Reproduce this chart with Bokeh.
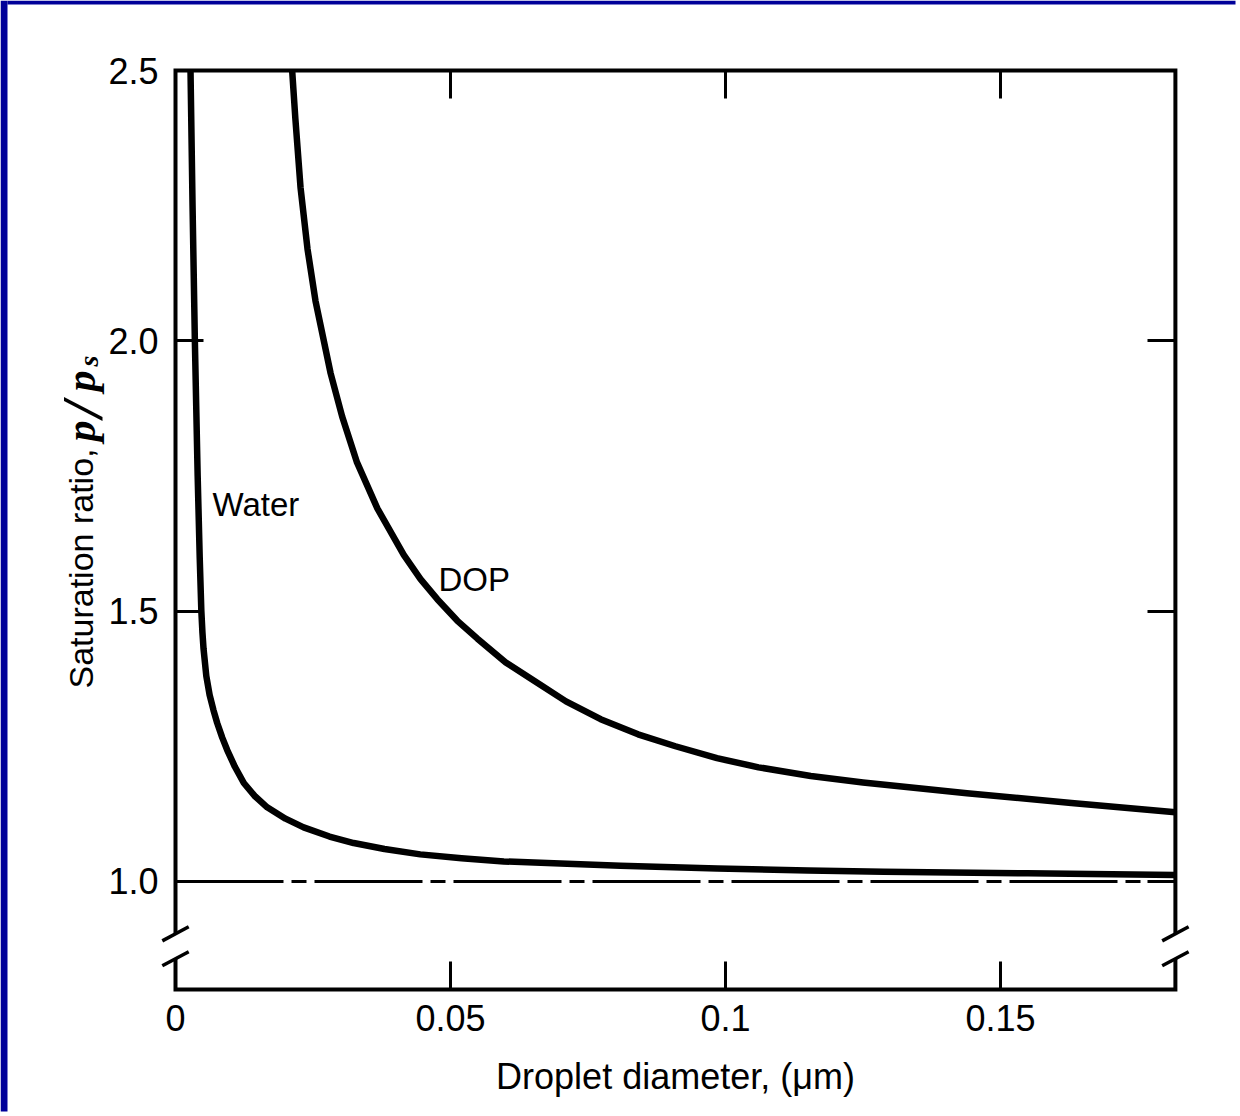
import math
from bokeh.plotting import figure
from bokeh.models import LinearAxis, FixedTicker, Label, Range1d, PrintfTickFormatter
from bokeh.embed import file_html
from bokeh.resources import INLINE

# ---- data ----
water_d = [0.00273, 0.00310, 0.00352, 0.00403, 0.00440, 0.00470, 0.00490, 0.00510, 0.00560,
           0.00620, 0.00690, 0.00758, 0.00850, 0.00940, 0.01080, 0.01242, 0.01450, 0.01667,
           0.02000, 0.02330, 0.02800, 0.03240, 0.03800, 0.04450, 0.05200, 0.05970, 0.07000,
           0.08090, 0.09850, 0.11500, 0.12870, 0.15500, 0.18180]
water_s = [2.50, 2.25, 2.00, 1.75, 1.60, 1.50, 1.46, 1.43, 1.38,
           1.345, 1.317, 1.293, 1.266, 1.243, 1.212, 1.182, 1.157, 1.137,
           1.116, 1.100, 1.083, 1.071, 1.060, 1.050, 1.043, 1.037, 1.033,
           1.029, 1.024, 1.020, 1.018, 1.015, 1.012]

dop_d = [0.02121, 0.0218, 0.02273, 0.0240, 0.02545, 0.0282, 0.0303, 0.0330, 0.0367, 0.0415,
         0.04455, 0.0476, 0.05125, 0.0549, 0.06005, 0.0652, 0.0710, 0.0773, 0.0841, 0.0909,
         0.09845, 0.1060, 0.1155, 0.1250, 0.1439, 0.1629, 0.1818]
dop_s = [2.50, 2.41, 2.284, 2.17, 2.074, 1.94, 1.86, 1.775, 1.69, 1.604,
         1.559, 1.522, 1.482, 1.449, 1.405, 1.371, 1.333, 1.300, 1.272, 1.250,
         1.228, 1.211, 1.195, 1.183, 1.163, 1.145, 1.128]

x_ticks = [0, 0.05, 0.1, 0.15]
x_tick_labels = ["0", "0.05", "0.1", "0.15"]
y_ticks = [1.0, 1.5, 2.0, 2.5]

x_min, x_max = 0.0, 0.1818
y_min, y_max = 0.8, 2.5
y_break = [0.857, 0.903]
ref_level = 1.0

series_names = ["Water", "DOP"]
x_label = "Droplet diameter, (\u03bcm)"
y_label_text = "Saturation ratio,"

# ---- layout: the frame fills the whole canvas; axes sit at fixed data locations ----
W, H = 1238, 1114
PX_X, PX_Y = 5500.0, 540.6          # pixels per data unit
BOX_LEFT, BOX_TOP = 175, 70         # pixel position of the (x_min, y_max) corner
xs0 = x_min - BOX_LEFT / PX_X
ys1 = y_max + BOX_TOP / PX_Y


def dx_px(px):
    return x_min + (px - BOX_LEFT) / PX_X


def dy_px(py):
    return y_max - (py - BOX_TOP) / PX_Y


p = figure(frame_width=W, frame_height=H,
           x_range=Range1d(xs0, xs0 + W / PX_X),
           y_range=Range1d(ys1 - H / PX_Y, ys1),
           output_backend="svg", toolbar_location=None,
           min_border_left=0, min_border_right=0, min_border_top=0, min_border_bottom=0)
p.outline_line_alpha = 0
p.xgrid.visible = False
p.ygrid.visible = False
p.background_fill_color = "white"
p.border_fill_color = "white"

FONT = "Liberation Sans"


def style_axis(ax):
    ax.axis_line_alpha = 0
    ax.major_tick_in = 28
    ax.major_tick_out = 0
    ax.minor_tick_line_alpha = 0
    ax.major_tick_line_width = 3
    ax.major_tick_line_color = "black"
    ax.major_label_text_font = FONT
    ax.major_label_text_font_size = "36px"
    ax.major_label_text_color = "black"


xb = p.xaxis[0]
xb.fixed_location = y_min
xb.bounds = (x_min, x_max)
xb.ticker = FixedTicker(ticks=x_ticks)
xb.major_label_overrides = {t: l for t, l in zip(x_ticks, x_tick_labels)}
style_axis(xb)
xb.major_label_standoff = 15
xb.axis_label = x_label
xb.axis_label_text_font = FONT
xb.axis_label_text_font_size = "36px"
xb.axis_label_text_font_style = "normal"
xb.axis_label_text_color = "black"
xb.axis_label_standoff = 22

yl = p.yaxis[0]
yl.fixed_location = x_min
yl.ticker = FixedTicker(ticks=y_ticks)
yl.formatter = PrintfTickFormatter(format="%.1f")
style_axis(yl)
yl.major_label_standoff = 17

top = LinearAxis(fixed_location=y_max, ticker=FixedTicker(ticks=x_ticks),
                 major_label_overrides={t: "" for t in x_ticks})
style_axis(top)
top.major_label_text_font_size = "8px"
p.add_layout(top, "above")

right = LinearAxis(fixed_location=x_max, ticker=FixedTicker(ticks=y_ticks),
                   major_label_overrides={t: "" for t in y_ticks})
style_axis(right)
right.major_label_text_font_size = "8px"
p.add_layout(right, "right")

# ---- blue slide edges (left and top only) ----
BLUE = "#000099"
p.quad(left=[dx_px(0), dx_px(7)], right=[dx_px(7), dx_px(W - 3)],
       top=[dy_px(0), dy_px(0)], bottom=[dy_px(H - 3), dy_px(4)],
       fill_color=BLUE, fill_alpha=1, line_alpha=0)

# ---- frame box with axis breaks ----
p.multi_line(xs=[[x_min, x_min, x_max, x_max], [x_min, x_min, x_max, x_max]],
             ys=[[y_break[1], y_max, y_max, y_break[1]], [y_break[0], y_min, y_min, y_break[0]]],
             line_width=4, line_color="black", line_join="miter", line_cap="butt")
sdx, sdy = 0.0024, 0.013
bx = [x_min, x_min, x_max, x_max]
by = [y_break[0], y_break[1], y_break[0], y_break[1]]
p.segment(x0=[v - sdx for v in bx], y0=[v - sdy for v in by],
          x1=[v + sdx for v in bx], y1=[v + sdy for v in by],
          line_width=3.5, line_color="black")

# ---- reference line p/ps = 1 ----
p.line([x_min, x_max], [ref_level, ref_level], line_width=3, line_color="black",
       line_dash="108 8 15 8")

# ---- curves ----
p.line(water_d, water_s, line_width=6.5, line_color="black", line_join="round", line_cap="butt")
p.line(dop_d, dop_s, line_width=6.5, line_color="black", line_join="round", line_cap="butt")

# ---- curve labels ----
p.add_layout(Label(x=dx_px(212), y=dy_px(504), text=series_names[0], text_font=FONT,
                   text_font_size="33px", text_color="black", text_baseline="alphabetic"))
p.add_layout(Label(x=dx_px(438), y=dy_px(579), text=series_names[1], text_font=FONT,
                   text_font_size="33px", text_color="black", text_baseline="alphabetic"))

# ---- y axis label (rotated), with italic p/p_s ----
ang = math.pi / 2
p.add_layout(Label(x=dx_px(80), y=dy_px(688), text=y_label_text, angle=ang, text_font=FONT,
                   text_font_size="34px", text_color="black", text_baseline="alphabetic"))
for txt, py, px, size in [("p", 441, 80, "42px"), ("/", 417, 82, "58px"),
                          ("p", 391, 80, "42px"), ("s", 366, 88, "28px")]:
    p.add_layout(Label(x=dx_px(px), y=dy_px(py), text=txt, angle=ang, text_font="Liberation Serif",
                       text_font_style="bold italic", text_font_size=size,
                       text_color="black", text_baseline="alphabetic"))

open("out.html", "w").write(file_html(p, INLINE))
